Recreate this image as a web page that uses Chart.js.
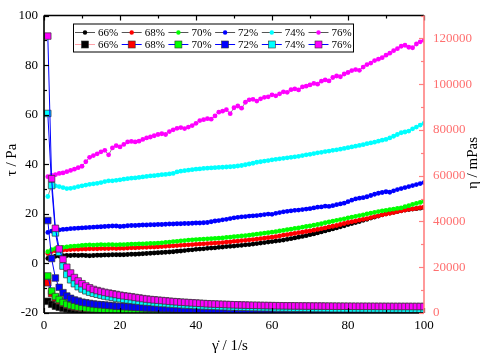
<!DOCTYPE html>
<html><head><meta charset="utf-8">
<script src="https://cdn.jsdelivr.net/npm/chart.js@4.4.0/dist/chart.umd.min.js"></script>
<style>html,body{margin:0;padding:0;background:#fff;}canvas{display:block;}</style>
</head><body>
<canvas id="c" width="484" height="358"></canvas>
<script>
const shearRate = [1,2,3,4,5,6,7,8,9,10,11,12,13,14,15,16,17,18,19,20,21,22,23,24,25,26,27,28,29,30,31,32,33,34,35,36,37,38,39,40,41,42,43,44,45,46,47,48,49,50,51,52,53,54,55,56,57,58,59,60,61,62,63,64,65,66,67,68,69,70,71,72,73,74,75,76,77,78,79,80,81,82,83,84,85,86,87,88,89,90,91,92,93,94,95,96,97,98,99,100];
const concentrations = ['66%','68%','70%','72%','74%','76%'];
const seriesColors = ['#000000','#ff0000','#00ff00','#0000ff','#00ffff','#ff00ff'];
const rateTicks = [0,20,40,60,80,100];
const tauTicks = [-20,0,20,40,60,80,100];
const etaTicks = [0,20000,40000,60000,80000,100000,120000];

// shear stress tau (Pa), circles, left axis
const tau66 = [2.0,2.6,2.9,3.0,3.1,3.2,3.2,3.3,3.2,3.3,
 3.2,3.1,3.2,3.3,3.3,3.4,3.4,3.5,3.5,3.5,
 3.5,3.6,3.7,3.7,3.8,3.9,4.0,4.1,4.2,4.3,
 4.4,4.5,4.6,4.7,4.9,5.0,5.2,5.4,5.5,5.7,
 5.8,5.9,6.1,6.2,6.3,6.5,6.6,6.8,6.9,7.0,
 7.2,7.3,7.5,7.6,7.8,8.0,8.2,8.4,8.6,8.8,
 9.0,9.2,9.4,9.7,10.0,10.3,10.6,10.9,11.2,11.6,
 11.9,12.3,12.7,13.1,13.5,13.9,14.3,14.8,15.2,15.7,
 16.1,16.5,16.9,17.4,17.8,18.3,18.7,19.1,19.6,20.0,
 20.3,20.6,20.9,21.2,21.5,21.7,21.9,22.1,22.3,22.5];
const tau68 = [4.0,4.8,5.1,5.3,5.4,5.5,5.6,5.7,5.7,5.8,
 5.8,5.9,5.9,5.9,6.0,6.0,6.0,6.1,6.0,6.1,
 6.1,6.2,6.3,6.3,6.4,6.5,6.5,6.6,6.6,6.7,
 6.8,6.9,7.0,7.1,7.2,7.3,7.4,7.5,7.6,7.7,
 7.8,7.9,8.0,8.1,8.2,8.3,8.4,8.6,8.7,8.9,
 9.0,9.2,9.3,9.5,9.6,9.8,10.0,10.2,10.4,10.6,
 10.8,11.1,11.4,11.6,11.9,12.1,12.4,12.6,12.9,13.1,
 13.4,13.7,14.0,14.3,14.7,15.0,15.3,15.7,16.1,16.5,
 16.8,17.1,17.5,17.8,18.1,18.5,18.9,19.2,19.6,19.9,
 20.2,20.5,20.9,21.2,21.5,21.8,22.0,22.2,22.5,22.7];
const tau70 = [4.7,5.6,6.0,6.3,6.5,6.7,6.9,7.0,7.1,7.3,
 7.4,7.5,7.4,7.5,7.6,7.5,7.6,7.6,7.5,7.6,
 7.6,7.7,7.8,7.8,7.9,7.9,8.0,8.1,8.1,8.2,
 8.3,8.5,8.6,8.8,8.9,9.1,9.2,9.4,9.5,9.6,
 9.7,9.8,9.9,10.0,10.1,10.2,10.3,10.5,10.6,10.8,
 10.9,11.1,11.2,11.4,11.6,11.8,12.0,12.2,12.4,12.6,
 12.8,13.1,13.3,13.6,13.8,14.1,14.3,14.6,14.9,15.1,
 15.4,15.7,16.0,16.4,16.7,17.0,17.4,17.7,18.0,18.4,
 18.7,19.0,19.3,19.6,20.0,20.3,20.6,20.9,21.2,21.4,
 21.7,21.9,22.2,22.4,22.9,23.3,23.8,24.2,24.6,25.0];
const tau72 = [12.5,13.0,13.3,13.5,13.7,13.8,14.0,14.1,14.2,14.3,
 14.4,14.5,14.6,14.7,14.8,14.9,15.0,15.1,15.1,14.9,
 15.0,15.2,15.3,15.3,15.4,15.5,15.5,15.6,15.6,15.7,
 15.7,15.8,15.9,15.9,16.0,16.0,16.1,16.1,16.2,16.3,
 16.3,16.4,16.5,16.8,17.1,17.3,17.6,17.8,18.1,18.4,
 18.6,18.8,18.9,19.1,19.2,19.3,19.5,19.7,19.9,19.8,
 20.2,20.5,20.8,21.0,21.2,21.4,21.5,21.7,21.9,22.1,
 22.4,22.7,22.8,23.1,23.0,23.3,23.7,24.0,24.3,24.9,
 25.5,26.0,26.3,26.5,26.9,27.4,27.9,28.3,28.6,28.9,
 28.7,29.3,29.8,30.2,30.6,31.0,31.4,31.8,32.2,32.6];
const tau74 = [27.0,31.5,31.3,31.0,30.6,30.2,30.3,30.6,31.0,31.3,
 31.6,31.9,32.1,32.3,32.6,33.0,33.3,33.3,33.5,33.7,
 34.0,34.2,34.4,34.5,34.7,34.9,35.1,35.3,35.4,35.6,
 35.8,35.9,36.1,36.3,36.9,37.2,37.4,37.6,37.8,38.0,
 38.1,38.3,38.4,38.5,38.6,38.7,38.8,38.9,39.0,39.1,
 39.3,39.5,39.8,40.1,40.4,40.8,41.0,41.3,41.5,41.8,
 42.0,42.2,42.4,42.6,42.8,43.0,43.2,43.5,43.8,44.0,
 44.3,44.6,44.8,45.1,45.3,45.6,45.8,46.1,46.4,46.7,
 47.0,47.3,47.6,47.9,48.3,48.6,48.9,49.3,49.7,50.0,
 50.6,51.3,52.0,52.7,53.0,53.4,54.3,55.0,55.8,56.5];
const tau76 = [35.0,35.5,35.8,36.3,36.5,37.0,37.5,38.0,38.6,39.2,
 41.0,42.8,43.5,44.2,45.0,45.6,43.8,46.6,47.5,47.0,
 48.0,49.0,49.2,49.0,49.3,50.0,50.6,51.0,51.5,52.0,
 52.3,52.0,53.2,53.9,54.5,54.8,54.4,55.0,55.6,56.5,
 57.6,58.0,58.4,58.2,59.5,61.0,61.4,62.0,60.4,62.8,
 63.5,62.6,65.0,66.0,66.2,65.5,66.4,67.0,67.2,68.0,
 67.6,68.4,69.2,69.0,70.1,70.4,70.0,71.2,71.5,72.0,
 72.6,72.3,73.5,74.0,73.6,75.0,75.6,75.3,76.4,77.0,
 77.8,78.2,77.9,79.2,80.2,80.8,81.8,82.4,83.0,84.0,
 84.8,85.8,86.6,87.6,88.0,87.2,87.0,88.5,89.4,90.0];

// viscosity eta (mPas), squares, right axis
const eta66 = [5100,3800,3000,2500,2100,1800,1580,1400,1260,1150,
 1060,980,915,860,810,765,725,690,660,630,
 605,580,558,538,520,503,487,472,458,445,
 433,422,411,401,392,383,375,367,360,353,
 346,340,334,328,323,318,313,308,304,300,
 296,292,288,284,281,278,275,272,269,266,
 263,260,258,256,254,252,250,248,246,244,
 242,240,238,236,234,232,230,228,226,224,
 222,221,220,219,218,217,216,215,214,213,
 212,211,210,209,208,207,206,205,204,203];
const eta68 = [13200,8500,6600,5400,4300,3500,3000,2600,2300,2080,
 1900,1750,1620,1510,1420,1340,1270,1200,1140,1090,
 1040,995,955,920,885,855,825,800,775,752,
 730,710,690,672,655,640,625,611,598,585,
 573,562,551,541,531,522,513,505,497,489,
 482,475,468,462,456,450,444,439,434,429,
 424,419,415,411,407,403,399,395,392,389,
 386,383,380,377,374,371,368,366,364,362,
 360,358,356,354,352,350,348,346,344,342,
 340,338,337,336,335,334,333,332,331,330];
const eta70 = [16200,9600,7200,5900,4600,3800,3300,2900,2600,2350,
 2150,2000,1850,1750,1650,1550,1480,1400,1340,1280,
 1220,1170,1120,1080,1040,1000,970,940,910,880,
 855,830,810,790,770,750,735,720,705,690,
 680,670,660,650,640,630,622,614,606,598,
 591,584,577,570,564,558,552,546,541,536,
 531,526,522,518,514,510,506,502,498,495,
 492,489,486,483,480,477,474,471,468,466,
 464,462,460,458,456,454,452,450,448,446,
 444,442,440,438,436,434,432,430,428,426];
const eta72 = [40400,23800,15300,11200,8900,7400,6400,5700,5200,4750,
 4450,4200,3950,3750,3600,3450,3300,3150,3000,2900,
 2800,2700,2600,2500,2400,2300,2200,2100,2050,2000,
 1950,1900,1850,1800,1750,1700,1650,1600,1560,1520,
 1480,1440,1400,1370,1340,1310,1280,1250,1220,1190,
 1170,1150,1130,1110,1090,1070,1050,1030,1010,990,
 975,960,945,930,915,900,890,880,870,860,
 850,840,830,820,810,800,795,790,785,780,
 775,770,765,760,755,750,745,740,735,730,
 725,720,715,712,710,707,705,702,700,700];
const eta74 = [87200,55700,35000,26500,20500,16800,14500,12800,11500,10500,
 9700,9100,8600,8200,7800,7400,7100,6800,6500,6250,
 6000,5750,5550,5350,5150,4950,4800,4650,4500,4350,
 4200,4100,3950,3850,3750,3650,3550,3450,3350,3250,
 3170,3100,3030,2960,2900,2840,2780,2720,2670,2620,
 2570,2530,2490,2450,2410,2370,2340,2310,2280,2250,
 2220,2190,2160,2140,2110,2090,2070,2050,2030,2010,
 1990,1970,1950,1940,1920,1900,1890,1870,1860,1850,
 1840,1830,1820,1810,1800,1790,1780,1770,1760,1750,
 1740,1730,1730,1720,1710,1700,1700,1690,1680,1680];
const eta76 = [121000,58700,37000,28000,23500,20000,17500,15500,14000,12800,
 11800,11000,10300,9800,9400,9000,8700,8400,8100,7800,
 7500,7300,7100,6800,6600,6300,6100,5900,5750,5600,
 5450,5300,5150,5000,4900,4750,4650,4550,4450,4350,
 4250,4150,4050,3980,3900,3850,3780,3720,3660,3600,
 3550,3500,3450,3400,3370,3340,3310,3280,3250,3220,
 3200,3180,3160,3140,3120,3100,3090,3070,3060,3040,
 3030,3020,3010,3000,2990,2980,2970,2960,2950,2940,
 2930,2920,2920,2910,2910,2900,2900,2890,2890,2880,
 2880,2870,2870,2860,2860,2860,2850,2850,2850,2840];

const tauSeries = [tau66, tau68, tau70, tau72, tau74, tau76];
const etaSeries = [eta66, eta68, eta70, eta72, eta74, eta76];

const FONT = "'Liberation Serif', 'Times New Roman', serif";
const RIGHT_COLOR = '#ff6f6f';
const RIGHT_LINE = '#ff8080';

function toPoints(ys) { return ys.map((v, i) => ({ x: shearRate[i], y: v })); }

const datasets = [];
etaSeries.forEach((ys, i) => {
  datasets.push({
    label: concentrations[i], kind: 'eta', data: toPoints(ys), yAxisID: 'y1', showLine: true,
    borderColor: i === 0 ? '#ffa0a8' : '#0000ff', borderWidth: 1,
    pointStyle: 'rect', pointRadius: 4.6, pointBackgroundColor: seriesColors[i],
    pointBorderColor: '#333333', pointBorderWidth: 0.7, order: 5 - i, clip: 0
  });
});
tauSeries.forEach((ys, i) => {
  datasets.push({
    label: concentrations[i], kind: 'tau', data: toPoints(ys), yAxisID: 'y', showLine: true,
    borderColor: '#555555', borderWidth: 0.7,
    pointStyle: 'circle', pointRadius: 2.4, pointBackgroundColor: seriesColors[i],
    pointBorderColor: seriesColors[i], pointBorderWidth: 0, order: 11 - i, clip: 0
  });
});

const framePlugin = {
  id: 'frame',
  afterDraw(chart) {
    const { ctx, chartArea: a, scales } = chart;
    ctx.save();
    const seg = (x1, y1, x2, y2) => { ctx.beginPath(); ctx.moveTo(x1, y1); ctx.lineTo(x2, y2); ctx.stroke(); };
    ctx.strokeStyle = '#000'; ctx.lineWidth = 1.2;
    for (let v = 0; v <= 100; v += 10) {
      const px = Math.round(scales.x.getPixelForValue(v)) + 0.5;
      const L = v % 20 === 0 ? 5 : 3;
      seg(px, a.bottom, px, a.bottom - L);
      seg(px, a.top, px, a.top + L);
    }
    for (let v = -20; v <= 100; v += 10) {
      const py = Math.round(scales.y.getPixelForValue(v)) + 0.5;
      const L = v % 20 === 0 ? 5 : 3;
      seg(a.left, py, a.left + L, py);
    }
    ctx.lineWidth = 1.6;
    seg(a.left, a.top, a.right, a.top);
    seg(a.left, a.top, a.left, a.bottom);
    seg(a.left, a.bottom, a.right, a.bottom);
    ctx.strokeStyle = RIGHT_LINE; ctx.lineWidth = 1.2;
    for (let v = 0; v <= 130000; v += 10000) {
      const py = Math.round(scales.y1.getPixelForValue(v)) + 0.5;
      const L = v % 20000 === 0 ? 5 : 3;
      seg(a.right, py, a.right - L, py);
    }
    ctx.lineWidth = 1.6;
    seg(a.right, a.top, a.right, a.bottom);

    // axis titles
    ctx.fillStyle = '#000';
    ctx.font = '15px ' + FONT;
    ctx.textAlign = 'center'; ctx.textBaseline = 'middle';
    ctx.save(); ctx.translate(12, 160); ctx.rotate(-Math.PI / 2); ctx.fillText('τ / Pa', 0, 0); ctx.restore();
    ctx.save(); ctx.translate(473, 163); ctx.rotate(-Math.PI / 2); ctx.fillText('η / mPas', 0, 0); ctx.restore();
    ctx.fillText('γ̇ / 1/s', 230, 346);

    // legend box
    const bx = a.left + 29, by = a.top + 8, bw = 280, bh = 28;
    ctx.fillStyle = '#fff'; ctx.fillRect(bx, by, bw, bh);
    ctx.strokeStyle = '#000'; ctx.lineWidth = 1; ctx.strokeRect(bx + 0.5, by + 0.5, bw, bh);
    ctx.font = '11px ' + FONT; ctx.textAlign = 'left'; ctx.textBaseline = 'middle';
    const rows = [{ kind: 'tau', y: by + 9 }, { kind: 'eta', y: by + 21 }];
    rows.forEach(r => {
      const items = chart.data.datasets.filter(d => d.kind === r.kind);
      items.forEach((d, i) => {
        const mx = bx + 12 + i * 46.7;
        ctx.strokeStyle = d.borderColor; ctx.lineWidth = 1;
        seg(mx - 10, r.y, mx + 10, r.y);
        ctx.fillStyle = d.pointBackgroundColor;
        if (r.kind === 'tau') {
          ctx.beginPath(); ctx.arc(mx, r.y, 2.2, 0, Math.PI * 2); ctx.fill();
        } else {
          ctx.fillRect(mx - 3.5, r.y - 3.5, 7, 7);
          ctx.strokeStyle = '#333'; ctx.lineWidth = 0.6; ctx.strokeRect(mx - 3.5, r.y - 3.5, 7, 7);
        }
        ctx.fillStyle = '#000';
        ctx.fillText(d.label, mx + 13, r.y + 0.5);
      });
    });
    ctx.restore();
  }
};

new Chart(document.getElementById('c'), {
  type: 'scatter',
  data: { datasets },
  options: {
    responsive: false, animation: false, devicePixelRatio: 1, events: [],
    layout: { padding: { top: 7, left: 0, right: 0, bottom: 0 } },
    plugins: { legend: { display: false }, tooltip: { enabled: false } },
    scales: {
      x: {
        type: 'linear', min: 0, max: 100,
        grid: { display: false, drawTicks: false }, border: { display: false },
        afterBuildTicks: s => { s.ticks = rateTicks.map(v => ({ value: v })); },
        afterFit: s => { s.height = 45; },
        ticks: { padding: 6, color: '#000', font: { family: FONT, size: 13, lineHeight: 1 }, maxRotation: 0, callback: v => String(v) }
      },
      y: {
        type: 'linear', position: 'left', min: -20, max: 100,
        grid: { display: false, drawTicks: false }, border: { display: false },
        afterBuildTicks: s => { s.ticks = tauTicks.map(v => ({ value: v })); },
        afterFit: s => { s.width = 44; },
        ticks: { padding: 6, color: '#000', font: { family: FONT, size: 13, lineHeight: 1 }, callback: v => String(v) }
      },
      y1: {
        type: 'linear', position: 'right', min: 0, max: 130000,
        grid: { display: false, drawTicks: false }, border: { display: false },
        afterBuildTicks: s => { s.ticks = etaTicks.map(v => ({ value: v })); },
        afterFit: s => { s.width = 60; },
        ticks: { padding: 9, color: RIGHT_COLOR, font: { family: FONT, size: 13, lineHeight: 1 }, callback: v => String(v) }
      }
    }
  },
  plugins: [framePlugin]
});
</script>
</body></html>
